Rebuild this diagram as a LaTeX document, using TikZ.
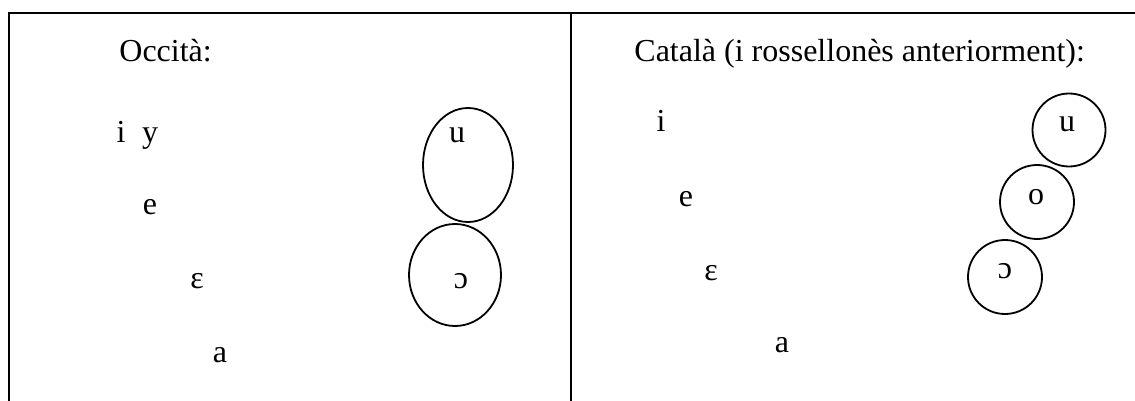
\documentclass[tikz,border=0pt]{standalone}
\usepackage{fontspec}
\setmainfont{Liberation Serif}

\begin{document}
\begin{tikzpicture}[x=0.5pt,y=-0.5pt,
		vowel/.style={anchor=base,inner sep=0pt,font=\fontsize{16}{19}\selectfont},
		heading/.style={anchor=base west,inner sep=0pt,font=\fontsize{16}{19}\selectfont},
		rule/.style={line width=1.2pt},
		ring/.style={line width=0.9pt}]
			\useasboundingbox (0,0) rectangle (1135,401);
		
			\draw[rule] (9,401) -- (9,13) -- (1135,13);
			\draw[rule] (571,13) -- (571,401);
		
			\node[heading] (occ) at (119,62) {Occità:};
			\node[vowel] (i1) at (121,142) {i};
			\node[vowel] (y1) at (150,142) {y};
			\node[vowel] (e1) at (150,214) {e};
			\node[vowel] (eps1) at (197,288) {ɛ};
			\node[vowel] (a1) at (220,362) {a};
			\node[vowel] (u1) at (457,142) {u};
			\node[vowel] (oo1) at (461,288) {ɔ};
		
			\draw[ring] (468,165) ellipse (45 and 57);
			\draw[ring] (455,275) ellipse (46 and 51);
		
			\node[heading] (cat) at (634,62) {Català (i rossellonès anteriorment):};
			\node[vowel] (i2) at (661,132) {i};
			\node[vowel] (e2) at (686,206) {e};
			\node[vowel] (eps2) at (711,280) {ɛ};
			\node[vowel] (a2) at (782,352) {a};
			\node[vowel] (u2) at (1067,132) {u};
			\node[vowel] (o2) at (1036,205) {o};
			\node[vowel] (oo2) at (1005,278) {ɔ};
		
			\draw[ring] (1069,130) circle (36.5);
			\draw[ring] (1037,202) circle (37);
			\draw[ring] (1005,277) circle (37);
		\end{tikzpicture}
\end{document}
